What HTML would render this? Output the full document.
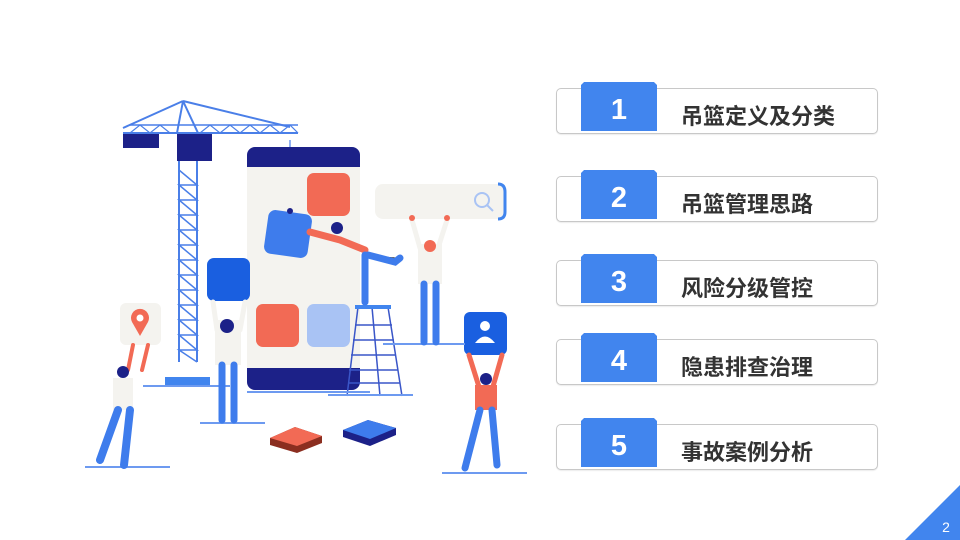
<!DOCTYPE html>
<html><head><meta charset="utf-8"><style>
body{margin:0;width:960px;height:540px;background:#fff;overflow:hidden;position:relative;font-family:"Liberation Sans","Noto Sans CJK SC",sans-serif}
.item{position:absolute;left:556px;width:320px;height:44px;border:1px solid #c8c8c8;border-radius:5px;background:#fff;box-shadow:0 1px 1px rgba(0,0,0,.08)}
.num{position:absolute;left:24px;top:-4px;width:76px;height:46px;background:#4185ee;color:#fff;font-weight:bold;font-size:29px;line-height:50px;text-align:center}
.num:before{content:"";position:absolute;left:0;right:0;top:-3px;height:3px;background:#4185ee;clip-path:polygon(4% 0,96% 0,100% 100%,0 100%)}
.txt{position:absolute;left:124px;top:9px;font-size:22px;font-weight:bold;color:#333;line-height:34px;font-family:"Noto Sans CJK SC",sans-serif}
</style></head><body>
<svg width="960" height="540" style="position:absolute;left:0;top:0">
<g stroke="#4a7fe8" stroke-width="2" fill="none">
<line x1="123" y1="133" x2="298" y2="133"/><line x1="183" y1="101" x2="123" y2="128"/><line x1="183" y1="101" x2="290" y2="127"/>
<line x1="183" y1="101" x2="177" y2="133"/><line x1="183" y1="101" x2="198" y2="133"/>
<line x1="130" y1="125" x2="298" y2="125" stroke-width="1.5"/>
<path d="M130 133 L140 125 L150 133 L160 125 L170 133 M200 133 L210 125 L220 133 L230 125 L240 133 L250 125 L260 133 L270 125 L280 133 L290 125 L298 133" stroke-width="1.2"/>
<line x1="179" y1="161" x2="179" y2="362"/><line x1="197" y1="161" x2="197" y2="362"/>
<path d="M179 170 L197 185 L179 185 L197 200 L179 200 L197 215 L179 215 L197 230 L179 230 L197 245 L179 245 L197 260 L179 260 L197 275 L179 275 L197 290 L179 290 L197 305 L179 305 L197 320 L179 320 L197 335 L179 335 L197 350 L179 350 L197 362" stroke-width="1.5"/>
<line x1="290" y1="140" x2="290" y2="210" stroke-width="1.2"/>
</g>
<rect x="123" y="134" width="36" height="14" fill="#1c2188"/><rect x="177" y="134" width="35" height="27" fill="#1c2188"/>
<rect x="165" y="377" width="45" height="9" fill="#4185ee"/>
<rect x="247" y="147" width="113" height="243" rx="8" fill="#1c2188"/>
<rect x="247" y="167" width="113" height="201" fill="#f4f3ef"/>
<rect x="307" y="173" width="43" height="43" rx="7" fill="#f26a55"/>
<rect x="256" y="304" width="43" height="43" rx="7" fill="#f26a55"/>
<rect x="307" y="304" width="43" height="43" rx="7" fill="#a9c3f4"/>
<rect x="266" y="212" width="44" height="44" rx="7" fill="#3e7cec" transform="rotate(8 288 234)"/>
<circle cx="290" cy="211" r="3" fill="#1c2188"/>
<rect x="207" y="258" width="43" height="43" rx="7" fill="#1a5fe0"/>
<rect x="375" y="184" width="130" height="35" rx="8" fill="#f4f3ef"/><path d="M498 184 Q505 184 505 192 L505 212 Q505 219 498 219" stroke="#4185ee" stroke-width="3" fill="none"/>
<circle cx="482" cy="200" r="7" stroke="#a9c3f4" stroke-width="2" fill="none"/><line x1="487" y1="205" x2="493" y2="211" stroke="#a9c3f4" stroke-width="2"/>
<rect x="120" y="303" width="41" height="42" rx="6" fill="#f4f3ef"/><path d="M140 336 L132 322 A9 9 0 1 1 148 322 Z" fill="#f26a55"/><circle cx="140" cy="318" r="3.5" fill="#fff"/>
<rect x="464" y="312" width="43" height="43" rx="6" fill="#1a5fe0"/><circle cx="485" cy="326" r="5" fill="#fff"/><path d="M475 343 Q485 330 495 343 Z" fill="#fff"/>
<g stroke="#3a56c8" stroke-width="1.5"><line x1="358" y1="307" x2="347" y2="396"/><line x1="388" y1="307" x2="402" y2="396"/><line x1="372" y1="307" x2="380" y2="396"/>
<line x1="355" y1="325" x2="392" y2="325"/><line x1="353" y1="340" x2="394" y2="340"/><line x1="351" y1="355" x2="396" y2="355"/><line x1="349" y1="370" x2="398" y2="370"/><line x1="348" y1="383" x2="400" y2="383"/></g>
<rect x="355" y="305" width="36" height="4" fill="#4185ee"/>
<path d="M270 438 L295 427 L322 436 L322 443 L297 453 L270 445 Z" fill="#8b2e20"/><path d="M270 438 L295 427 L322 436 L297 446 Z" fill="#f26a55"/>
<path d="M343 430 L368 420 L396 428 L396 435 L370 446 L343 437 Z" fill="#1c2188"/><path d="M343 430 L368 420 L396 428 L370 439 Z" fill="#3e7cec"/>
<g stroke="#6d9af0" stroke-width="2"><line x1="85" y1="467" x2="170" y2="467"/><line x1="143" y1="386" x2="230" y2="386"/><line x1="200" y1="423" x2="265" y2="423"/><line x1="247" y1="392" x2="370" y2="392"/><line x1="328" y1="395" x2="413" y2="395"/><line x1="383" y1="344" x2="465" y2="344"/><line x1="442" y1="473" x2="527" y2="473"/></g>
<g stroke-linecap="round">
<path d="M133 345 L128 370 M148 345 L142 370" stroke="#f26a55" stroke-width="4"/>
<rect x="113" y="378" width="20" height="32" fill="#f4f3ef"/><circle cx="123" cy="372" r="6" fill="#1c2188"/>
<path d="M118 410 L100 460 M130 410 L124 465" stroke="#3e7cec" stroke-width="8"/>
<path d="M213 302 L217 330 M245 302 L240 330" stroke="#f4f3ef" stroke-width="5"/>
<rect x="215" y="320" width="26" height="45" fill="#f4f3ef"/><circle cx="227" cy="326" r="7" fill="#1c2188"/>
<path d="M222 365 L222 420 M234 365 L234 420" stroke="#3e7cec" stroke-width="7"/>
<path d="M310 232 L340 240 L365 250" stroke="#f26a55" stroke-width="7"/><circle cx="337" cy="228" r="6" fill="#1c2188"/>
<path d="M365 255 L365 302 M368 255 L395 262 L400 258" stroke="#3e7cec" stroke-width="7"/>
<path d="M412 220 L420 248 M447 220 L438 248" stroke="#f4f3ef" stroke-width="5"/><circle cx="412" cy="218" r="3" fill="#f26a55"/><circle cx="447" cy="218" r="3" fill="#f26a55"/>
<rect x="418" y="244" width="24" height="40" fill="#f4f3ef"/><circle cx="430" cy="246" r="6" fill="#f26a55"/>
<path d="M424 284 L424 342 M436 284 L436 342" stroke="#3e7cec" stroke-width="7"/>
<path d="M469 355 L480 390 M502 355 L492 390" stroke="#f26a55" stroke-width="5"/>
<rect x="475" y="385" width="22" height="25" fill="#f26a55"/><circle cx="486" cy="379" r="6" fill="#1c2188"/>
<path d="M480 410 L465 468 M492 410 L497 465" stroke="#3e7cec" stroke-width="7"/>
</g>
<path d="M905 540 L960 485 L960 540 Z" fill="#4185ee"/>
<text x="946" y="532" fill="#fff" font-size="14" font-family="Liberation Sans" text-anchor="middle">2</text>
</svg>
<div class="item" style="top:88px"><div class="num">1</div><div class="txt">吊篮定义及分类</div></div>
<div class="item" style="top:176px"><div class="num">2</div><div class="txt">吊篮管理思路</div></div>
<div class="item" style="top:260px"><div class="num">3</div><div class="txt">风险分级管控</div></div>
<div class="item" style="top:339px"><div class="num">4</div><div class="txt">隐患排查治理</div></div>
<div class="item" style="top:424px"><div class="num">5</div><div class="txt">事故案例分析</div></div>
</body></html>
